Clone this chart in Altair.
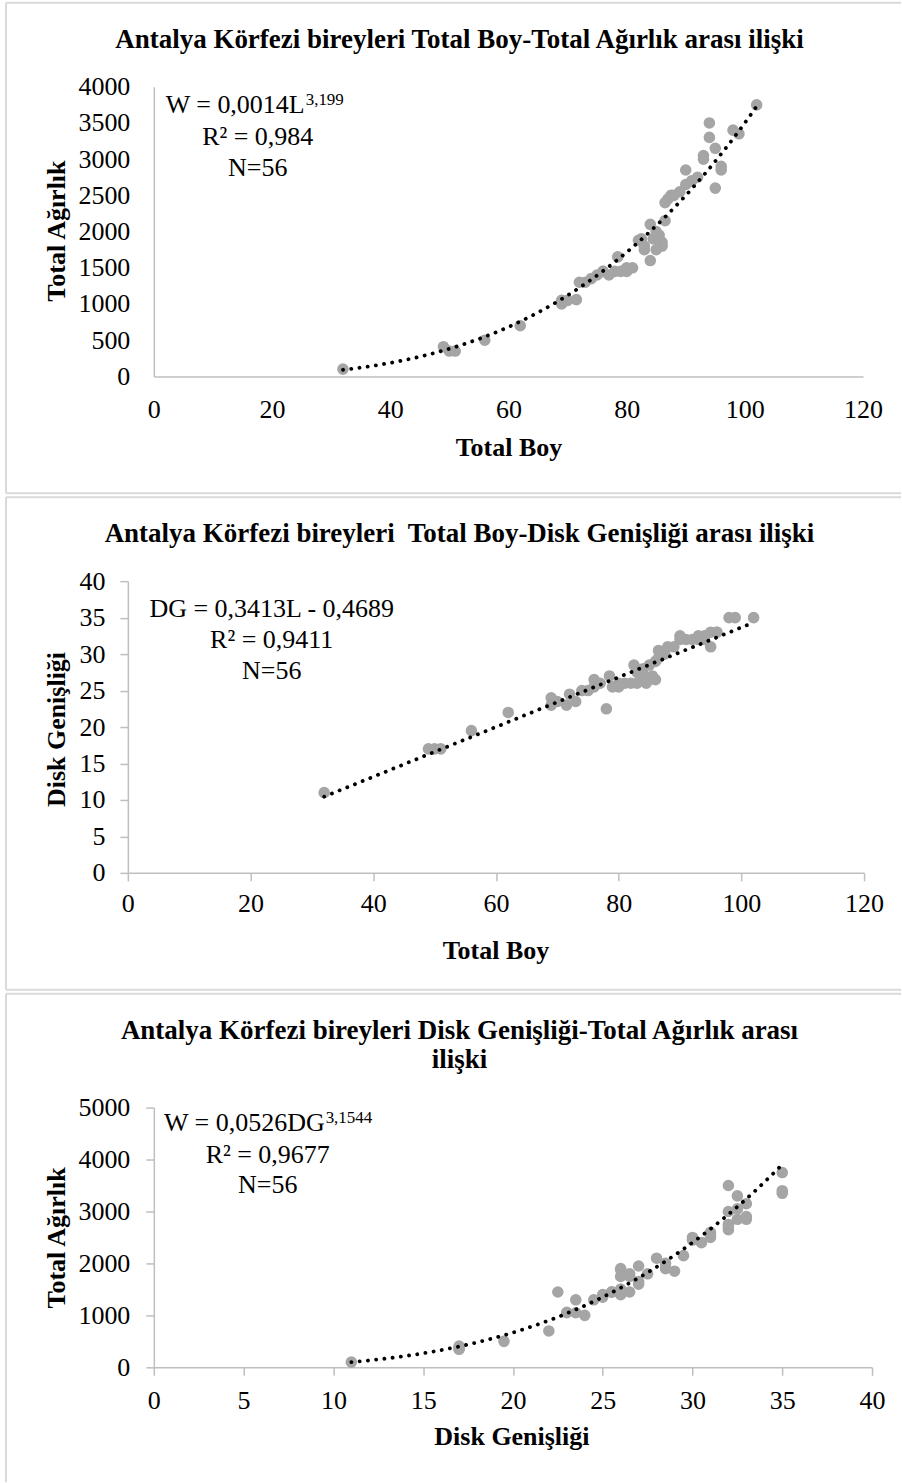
import altair as alt
import pandas as pd

# Individual fish: total length (cm), disc width (cm), total weight (g)
total_boy = [32, 49, 50, 51, 56, 62, 69, 69, 71.5, 72, 73, 75, 76, 76, 78, 78.5,
             80, 82, 82.5, 83, 84, 84, 85.5, 86, 86, 86.5, 86.5, 87.5, 89, 90,
             91, 93, 94, 94, 95, 95, 96, 98, 99, 102, 84.5, 77, 74, 85, 83, 88,
             92, 70, 80, 85, 90, 81, 79, 87, 96, 93]
disk_genisligi = [11, 17, 17, 17, 19.5, 22, 24, 23, 23, 24.5, 23.5, 25, 25.5, 26.5,
                  22.5, 27, 25.5, 26, 28.5, 27.5, 27, 28, 27, 26.5, 29, 29.5, 30.5,
                  30, 31, 32.5, 32, 32, 32, 32.5, 33, 31, 33, 35, 35, 35, 26, 26,
                  25, 26.5, 26, 31, 32, 23.5, 26, 28.5, 32, 26, 25.5, 30, 33, 32.5]
total_agirlik = [100, 410, 350, 350, 500, 700, 1000, 1050, 1060, 1300, 1300, 1400,
                 1450, 1450, 1450, 1650, 1450, 1880, 1900, 1800, 1600, 2100, 1950,
                 1800, 1850, 2150, 2400, 2500, 2550, 2850, 2700, 3000, 3500, 3300,
                 3150, 2600, 2850, 3400, 3350, 3750, 1900, 1400, 1350, 1750, 1750,
                 2500, 2750, 1050, 1500, 2000, 2650, 1500, 1450, 2450, 2900, 3050]

# Fitted relations (coefficients as reported on each panel)
boy_agirlik_fit = [0.0014, 3.199]      # W = a * L^b
boy_disk_fit = [0.3413, -0.4689]       # DG = a * L + b
disk_agirlik_fit = [0.0526, 3.1544]    # W = a * DG^b

panel_titles = [
    ["Antalya Körfezi bireyleri Total Boy-Total Ağırlık arası ilişki"],
    ["Antalya Körfezi bireyleri\u00a0 Total Boy-Disk Genişliği arası ilişki"],
    ["Antalya Körfezi bireyleri Disk Genişliği-Total Ağırlık arası", "ilişki"],
]

FONT = "Liberation Serif"
POINT_GRAY = "#a5a5a5"
AXIS_GRAY = "#bfbfbf"
BORDER_GRAY = "#d9d9d9"
TITLE_SIZE = 27

fish = pd.DataFrame({"L": total_boy, "DG": disk_genisligi, "W": total_agirlik})
one_row = pd.DataFrame({"k": [0]})

# All panels share the same left origin; panels 1 and 3 start their
# horizontal scale INSET pixels to the right of it.
INSET = 26
BOX_LEFT, BOX_RIGHT = -122, 774


def x_axis(values, ticks, pad, title, tx, ty):
    kw = dict(values=values, format="d", ticks=ticks, labelPadding=pad,
              title=title, titleX=tx, titleY=ty, titleAlign="center",
              titleBaseline="alphabetic", titleAngle=0)
    if ticks:
        kw["tickSize"] = 8
    return alt.Axis(**kw)


def y_axis(values, ticks, pad, title, tx, ty, offset=0):
    kw = dict(values=values, format="d", ticks=ticks, labelPadding=pad,
              title=title, titleX=tx, titleY=ty, titleAlign="center",
              titleBaseline="alphabetic", titleAngle=270, offset=offset)
    if ticks:
        kw["tickSize"] = 8
    return alt.Axis(**kw)


def text(t, x, y, size=26, align="center", weight="normal"):
    return alt.Chart(one_row).mark_text(
        text=t, font=FONT, fontSize=size, fontWeight=weight, color="black",
        align=align, baseline="alphabetic"
    ).encode(x=alt.value(x), y=alt.value(y))


def hline(y):
    return alt.Chart(one_row).mark_rule(color=BORDER_GRAY, strokeWidth=2).encode(
        x=alt.value(BOX_LEFT), x2=alt.value(BOX_RIGHT), y=alt.value(y))


def vline(y1, y2):
    return alt.Chart(one_row).mark_rule(color=BORDER_GRAY, strokeWidth=2).encode(
        x=alt.value(BOX_LEFT), y=alt.value(y1), y2=alt.value(y2))


def points(xenc, yenc):
    return alt.Chart(fish).mark_circle(size=135, color=POINT_GRAY, opacity=1).encode(
        x=xenc, y=yenc)


def dotted(seq, field, expr, xenc, yenc):
    return alt.Chart(seq).transform_calculate(**{field: expr}).mark_line(
        color="black", strokeWidth=3.8, strokeDash=[0.1, 8.2], strokeCap="round"
    ).encode(x=xenc, y=yenc)


# Panel 1: total length vs total weight
w1, h1 = 736, 290
x1 = alt.X("L:Q", scale=alt.Scale(domain=[0, 120], range=[INSET, w1], nice=False, zero=False),
           axis=x_axis(list(range(0, 121, 20)), False, 20, "Total Boy", 381, 79))
y1 = alt.Y("W:Q", scale=alt.Scale(domain=[0, 4000], nice=False, zero=False),
           axis=y_axis(list(range(0, 4001, 500)), False, 24, "Total Ağırlık", -89, 144,
                       offset=-INSET))
a, b = boy_agirlik_fit
panel1 = alt.layer(
    hline(-84), hline(407), vline(-84, 407),
    points(x1, y1),
    dotted(alt.sequence(32, 102.01, 0.5, as_="L"), "W",
           f"{a} * pow(datum.L, {b})", x1, y1),
    text(panel_titles[0][0], 332, -39, size=TITLE_SIZE, weight="bold"),
    text("W = 0,0014L", 177, 26, align="right"),
    text("3,199", 178, 18, size=17, align="left"),
    text("R² = 0,984", 130, 58),
    text("N=56", 130, 89),
).properties(width=w1, height=h1)

# Panel 2: total length vs disc width
w2, h2 = 737, 292
x2 = alt.X("L:Q", scale=alt.Scale(domain=[0, 120], nice=False, zero=False),
           axis=x_axis(list(range(0, 121, 20)), True, 10, "Total Boy", 368, 86))
y2 = alt.Y("DG:Q", scale=alt.Scale(domain=[0, 40], nice=False, zero=False),
           axis=y_axis(list(range(0, 41, 5)), True, 15, "Disk Genişliği", -63, 148))
a, b = boy_disk_fit
panel2 = alt.layer(
    hline(-84), hline(409), vline(-84, 409),
    points(x2, y2),
    dotted(alt.sequence(32, 102.01, 1, as_="L"), "DG",
           f"{a} * datum.L + ({b})", x2, y2),
    text(panel_titles[1][0], 332, -39, size=TITLE_SIZE, weight="bold"),
    text("DG = 0,3413L - 0,4689", 144, 36),
    text("R² = 0,9411", 144, 67),
    text("N=56", 144, 98),
).properties(width=w2, height=h2)

# Panel 3: disc width vs total weight
w3, h3 = 745, 260
x3 = alt.X("DG:Q", scale=alt.Scale(domain=[0, 40], range=[INSET, w3], nice=False, zero=False),
           axis=x_axis(list(range(0, 41, 5)), True, 12, "Disk Genişliği", 384, 77))
y3 = alt.Y("W:Q", scale=alt.Scale(domain=[0, 5000], nice=False, zero=False),
           axis=y_axis(list(range(0, 5001, 1000)), True, 16, "Total Ağırlık", -89, 130,
                       offset=-INSET))
a, b = disk_agirlik_fit
panel3 = alt.layer(
    hline(-114), vline(-114, 375),
    points(x3, y3),
    dotted(alt.sequence(11, 35.01, 0.25, as_="DG"), "W",
           f"{a} * pow(datum.DG, {b})", x3, y3),
    text(panel_titles[2][0], 332, -69, size=TITLE_SIZE, weight="bold"),
    text(panel_titles[2][1], 332, -40, size=TITLE_SIZE, weight="bold"),
    text("W = 0,0526DG", 197, 23, align="right"),
    text("3,1544", 198, 15, size=17, align="left"),
    text("R² = 0,9677", 140, 55),
    text("N=56", 140, 85),
).properties(width=w3, height=h3)

chart = alt.vconcat(
    panel1, panel2, panel3, spacing=2
).properties(
    padding={"left": 5, "top": 1, "right": 0, "bottom": 0}
).configure_view(
    strokeWidth=0
).configure_axis(
    grid=False,
    domainColor=AXIS_GRAY, domainWidth=1.5,
    tickColor=AXIS_GRAY, tickWidth=1.5,
    labelFont=FONT, labelFontSize=26, labelColor="black",
    labelFlush=False, labelOverlap=False,
    titleFont=FONT, titleFontSize=26, titleFontWeight="bold", titleColor="black",
).configure_text(font=FONT)

chart.save("out.html", embed_options={"renderer": "svg", "actions": False})
